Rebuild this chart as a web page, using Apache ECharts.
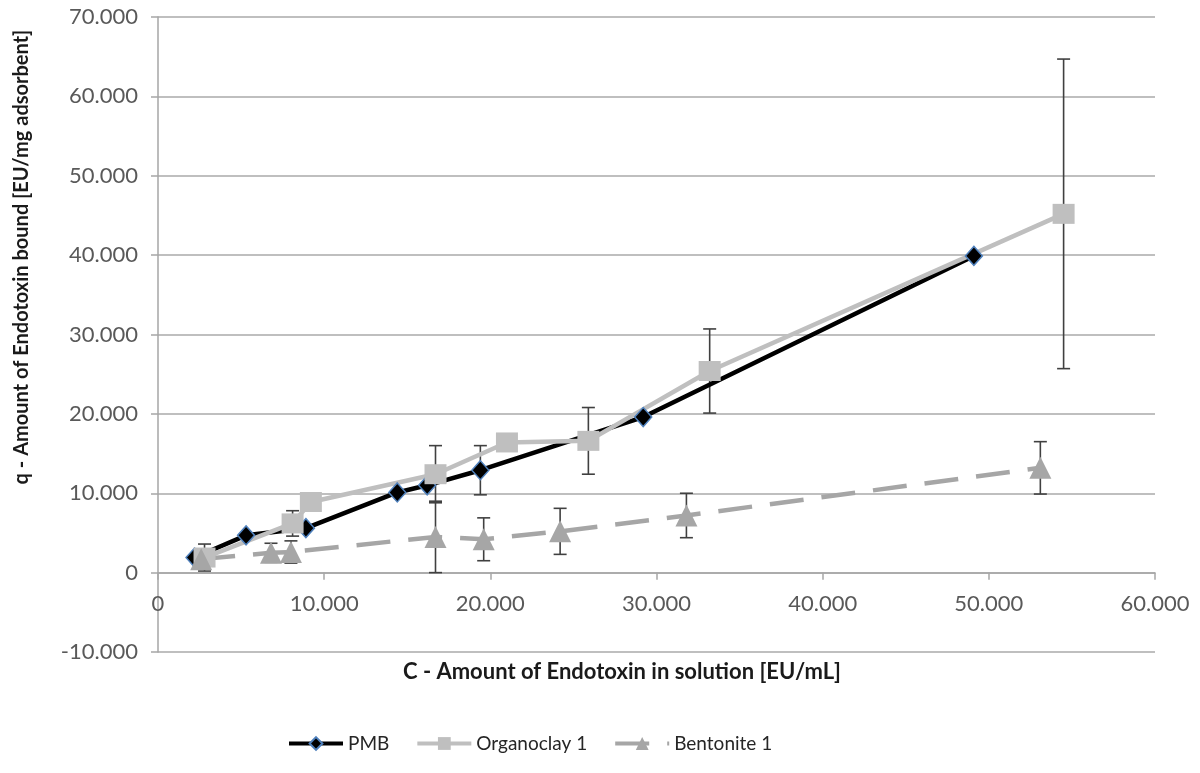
<!DOCTYPE html>
<html>
<head>
<meta charset="utf-8">
<script src="https://cdn.jsdelivr.net/npm/echarts@6/dist/echarts.min.js"></script>
<style>
  html, body { margin: 0; padding: 0; background: #ffffff; }
  #chart { width: 1200px; height: 773px; }
</style>
</head>
<body>
<div id="chart"></div>
<script>
// values (x in EU/mL, y in EU/mg)
const pmbX = [2200, 5300, 8900, 14400, 16200, 19400, 29200, 49100];
const pmbY = [1.9, 4.7, 5.6, 10.1, 11.0, 12.9, 19.6, 39.9];
const pmbErr = [0, 0, 0, 0, 0, 3.1, 0, 0];

const organoX = [2800, 8100, 9200, 16700, 21000, 25900, 33200, 54500];
const organoY = [1.9, 6.2, 8.9, 12.4, 16.4, 16.6, 25.4, 45.2];
const organoErr = [1.7, 1.6, 0, 3.6, 0, 4.2, 5.3, 19.5];

const bentoX = [2600, 6800, 8000, 16700, 19600, 24200, 31800, 53100];
const bentoY = [1.7, 2.5, 2.6, 4.5, 4.2, 5.2, 7.2, 13.2];
const bentoErr = [0, 1.2, 1.4, 4.5, 2.7, 2.9, 2.8, 3.3];

const seriesNames = ["PMB", "Organoclay 1", "Bentonite 1"];

const FONT = "Lato";
const GRID_TOP = 17;
const GRID_BOTTOM = 121;
const Y_MIN = -10;
const Y_MAX = 70;

function pairs(xs, ys) {
  return xs.map((x, i) => [x, ys[i]]);
}

function errorSeries(xs, ys, errs) {
  const data = xs
    .map((x, i) => [x, ys[i], errs[i]])
    .filter((d) => d[2] > 0);
  return {
    type: "custom",
    silent: true,
    data,
    encode: { x: 0, y: 1 },
    renderItem(params, api) {
      const x = api.value(0);
      const y = api.value(1);
      const e = api.value(2);
      const top = api.coord([x, y + e]);
      const bot = api.coord([x, y - e]);
      const cap = 6.5;
      const style = { stroke: "#404040", lineWidth: 1.6 };
      return {
        type: "group",
        children: [
          { type: "line", shape: { x1: top[0], y1: top[1], x2: bot[0], y2: bot[1] }, style },
          { type: "line", shape: { x1: top[0] - cap, y1: top[1], x2: top[0] + cap, y2: top[1] }, style },
          { type: "line", shape: { x1: bot[0] - cap, y1: bot[1], x2: bot[0] + cap, y2: bot[1] }, style },
        ],
      };
    },
  };
}

const chart = echarts.init(document.getElementById("chart"), null, { renderer: "canvas" });

// the x axis sits on y = 0, i.e. raised from the grid bottom by the -10..0 band
const gridHeight = 773 - GRID_TOP - GRID_BOTTOM;
const zeroOffset = (gridHeight * (0 - Y_MIN)) / (Y_MAX - Y_MIN);

chart.setOption({
  animation: false,
  backgroundColor: "#ffffff",
  textStyle: { fontFamily: FONT },
  grid: { left: 158, right: 45, top: GRID_TOP, bottom: GRID_BOTTOM },
  legend: {
    data: seriesNames,
    left: 282,
    top: 729,
    itemWidth: 54,
    itemHeight: 16,
    itemGap: 26,
    lineStyle: { width: 4 },
    textStyle: { fontFamily: FONT, fontSize: 19, color: "#262626" },
  },
  xAxis: {
    type: "value",
    min: 0,
    max: 60000,
    interval: 10000,
    offset: -zeroOffset,
    axisLine: { onZero: false, lineStyle: { color: "#a6a6a6", width: 1.5 } },
    axisTick: { show: true, length: 7, lineStyle: { color: "#a6a6a6", width: 1.5 } },
    splitLine: { show: false },
    axisLabel: {
      margin: 20,
      fontSize: 22,
      color: "#595959",
      fontFamily: FONT,
      formatter: (v) => (v === 0 ? "0" : (v / 1000).toFixed(3)),
    },
  },
  yAxis: {
    type: "value",
    min: Y_MIN,
    max: Y_MAX,
    interval: 10,
    axisLine: { show: true, lineStyle: { color: "#a6a6a6", width: 1.5 } },
    axisTick: { show: true, length: 7, lineStyle: { color: "#a6a6a6", width: 1.5 } },
    splitLine: { show: true, lineStyle: { color: "#bfbfbf", width: 1.8 } },
    axisLabel: {
      margin: 20,
      fontSize: 22,
      color: "#595959",
      fontFamily: FONT,
      formatter: (v) => (v === 0 ? "0" : v.toFixed(3)),
    },
  },
  graphic: [
    {
      type: "text",
      x: 22,
      y: 257,
      rotation: Math.PI / 2,
      style: {
        text: "q - Amount of Endotoxin bound [EU/mg adsorbent]",
        font: "bold 20px " + FONT,
        fill: "#1a1a1a",
        align: "center",
        verticalAlign: "middle",
      },
    },
    {
      type: "text",
      x: 622,
      y: 672,
      style: {
        text: "C - Amount of Endotoxin in solution [EU/mL]",
        font: "bold 22px " + FONT,
        fill: "#1a1a1a",
        align: "center",
        verticalAlign: "middle",
      },
    },
  ],
  series: [
    errorSeries(pmbX, pmbY, pmbErr),
    errorSeries(organoX, organoY, organoErr),
    errorSeries(bentoX, bentoY, bentoErr),
    {
      name: "PMB",
      type: "line",
      data: pairs(pmbX, pmbY),
      symbol: "diamond",
      symbolSize: [17, 19],
      color: "#000000",
      itemStyle: { color: "#000000", borderColor: "#4f81bd", borderWidth: 1.5 },
      lineStyle: { color: "#000000", width: 4.5 },
    },
    {
      name: "Organoclay 1",
      type: "line",
      data: pairs(organoX, organoY),
      symbol: "rect",
      symbolSize: [22, 20],
      color: "#bfbfbf",
      itemStyle: { color: "#bfbfbf" },
      lineStyle: { color: "#bfbfbf", width: 4.5 },
    },
    {
      name: "Bentonite 1",
      type: "line",
      data: pairs(bentoX, bentoY),
      symbol: "triangle",
      symbolSize: [22, 22],
      color: "#a6a6a6",
      itemStyle: { color: "#a6a6a6" },
      lineStyle: { color: "#a6a6a6", width: 4.5, type: [34, 18] },
    },
  ],
});
</script>
</body>
</html>
